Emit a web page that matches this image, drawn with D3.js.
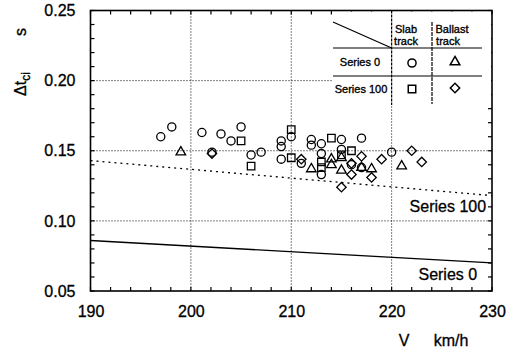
<!DOCTYPE html>
<html><head><meta charset="utf-8">
<script src="https://cdn.jsdelivr.net/npm/d3@7"></script>
<style>
body{margin:0;background:#fff;}
svg text{font-family:"Liberation Sans",Arial,Helvetica,sans-serif;fill:#000;}
</style></head>
<body><svg id="c" width="517" height="354"></svg>
<script>
// ---- data ----
const xTicks = [190, 200, 210, 220, 230];
const yTicks = [0.05, 0.10, 0.15, 0.20, 0.25];
const xGrid = [200, 210, 220];
const yGrid = [0.10, 0.15, 0.20];
// Series 0 on slab track (circles): [V km/h, Δt_ci s]
const series0Slab = [
  [197.0,0.160],[198.1,0.167],[201.1,0.163],[202.1,0.149],[203.0,0.162],
  [204.0,0.157],[205.0,0.167],[206.0,0.147],[207.0,0.149],[209.0,0.157],
  [209.0,0.153],[209.0,0.144],[210.0,0.160],[211.0,0.141],[212.0,0.158],
  [212.0,0.154],[213.0,0.155],[213.0,0.148],[213.0,0.133],[215.0,0.158],
  [215.0,0.151],[216.0,0.140],[217.0,0.159],[217.0,0.138],[220.0,0.149]
];
// Series 0 on ballast track (triangles)
const series0Ballast = [
  [199.0,0.149],[212.0,0.137],[214.0,0.144],[214.0,0.140],[215.0,0.145],
  [215.0,0.136],[217.0,0.138],[218.0,0.137],[221.0,0.139]
];
// Series 100 on slab track (squares)
const series100Slab = [
  [205.0,0.157],[206.0,0.139],[210.0,0.165],[210.0,0.145],[213.0,0.142],
  [213.0,0.138],[214.0,0.159],[215.0,0.147],[216.0,0.150]
];
// Series 100 on ballast track (diamonds)
const series100Ballast = [
  [202.1,0.148],[211.0,0.144],[215.0,0.124],[216.0,0.141],[216.0,0.133],
  [217.0,0.146],[218.0,0.131],[219.0,0.144],[222.0,0.150],[223.0,0.142]
];
// design lines
const series100Line = [[190,0.143],[230,0.118]];
const series0Line = [[190,0.086],[230,0.070]];

// ---- chart ----
const svg = d3.select("#c");
const L = 90.5, R = 492, T = 10.5, B = 291;
const x = d3.scaleLinear().domain([190,230]).range([L,R]);
const y = d3.scaleLinear().domain([0.05,0.25]).range([B,T]);

// grid
svg.append("g").selectAll("line").data(xGrid).join("line")
  .attr("x1",d=>x(d)).attr("x2",d=>x(d)).attr("y1",T).attr("y2",B)
  .attr("stroke","#000").attr("stroke-width",1).attr("stroke-dasharray","1,2");
svg.append("g").selectAll("line").data(yGrid).join("line")
  .attr("x1",L).attr("x2",R).attr("y1",d=>y(d)).attr("y2",d=>y(d))
  .attr("stroke","#000").attr("stroke-width",1).attr("stroke-dasharray","1,2");

// minor ticks (inward, all four sides)
const xMinor = d3.range(190,230.01,2);
const yMinor = d3.range(0.05,0.2501,0.01);
const tk = svg.append("g").attr("stroke","#000").attr("stroke-width",1.2);
xMinor.forEach(v=>{
  tk.append("line").attr("x1",x(v)).attr("x2",x(v)).attr("y1",B).attr("y2",B-4);
  tk.append("line").attr("x1",x(v)).attr("x2",x(v)).attr("y1",T).attr("y2",T+4);
});
yMinor.forEach(v=>{
  tk.append("line").attr("x1",L).attr("x2",L+4).attr("y1",y(v)).attr("y2",y(v));
  tk.append("line").attr("x1",R).attr("x2",R-4).attr("y1",y(v)).attr("y2",y(v));
});

// axes labels via d3 axes
const xAxis = svg.append("g").attr("transform",`translate(0,${B})`)
  .call(d3.axisBottom(x).tickValues(xTicks).tickSize(0).tickPadding(15).tickFormat(d3.format("d")));
const yAxis = svg.append("g").attr("transform",`translate(${L},0)`)
  .call(d3.axisLeft(y).tickValues(yTicks).tickSize(0).tickPadding(15).tickFormat(d3.format(".2f")));
[xAxis,yAxis].forEach(a=>{
  a.select(".domain").remove();
  a.selectAll("text").attr("font-size",16).attr("font-family","'Liberation Sans',Arial,sans-serif")
    .attr("fill","#000").attr("stroke","#000").attr("stroke-width",0.3);
});

// design lines
const line = d3.line().x(d=>x(d[0])).y(d=>y(d[1]));
svg.append("path").datum(series100Line).attr("d",line).attr("fill","none")
  .attr("stroke","#000").attr("stroke-width",1.3).attr("stroke-dasharray","2,4");
svg.append("path").datum(series0Line).attr("d",line).attr("fill","none")
  .attr("stroke","#000").attr("stroke-width",1.3);

const big = (tx,ty,s)=>svg.append("text").attr("x",tx).attr("y",ty).attr("text-anchor","middle")
  .attr("font-size",16).attr("stroke","#000").attr("stroke-width",0.3).text(s);
big(x(225.6),y(0.106),"Series 100");
big(x(225.6),y(0.0575),"Series 0");

// markers
const sym = {
  circle: d3.symbol().type(d3.symbolCircle).size(52),
  triangle: d3.symbol().type(d3.symbolTriangle).size(40),
  square: d3.symbol().type(d3.symbolSquare).size(56),
  diamond: d3.symbol().type(d3.symbolSquare).size(44)
};
const rot = {circle:0, triangle:0, square:0, diamond:45};
function drawPts(data, s){
  svg.append("g").selectAll("path").data(data).join("path")
    .attr("d",sym[s]).attr("transform",d=>`translate(${x(d[0])},${y(d[1])}) rotate(${rot[s]})`)
    .attr("fill","none").attr("stroke","#000").attr("stroke-width",1.3);
}
drawPts(series0Slab,"circle");
drawPts(series0Ballast,"triangle");
drawPts(series100Slab,"square");
drawPts(series100Ballast,"diamond");

// legend table
const lg = svg.append("g");
lg.append("rect").attr("x",332).attr("y",T+1).attr("width",R-333).attr("height",94).attr("fill","#fff");
function ln(x1,y1,x2,y2,dash){
  const l = lg.append("line").attr("x1",x1).attr("y1",y1).attr("x2",x2).attr("y2",y2)
    .attr("stroke","#000").attr("stroke-width",1.2);
  if(dash) l.attr("stroke-dasharray",dash);
}
const c1 = x(220), c2 = 432;
ln(333,22,c1,48);
ln(333,48,482,48);
ln(333,76,482,76);
ln(c1,T,c1,105,"3,1");
ln(c2,22,c2,104,"4,1");
const lt = (tx,ty,s)=>lg.append("text").attr("x",tx).attr("y",ty).attr("font-size",11)
  .attr("text-anchor","middle").attr("stroke","#000").attr("stroke-width",0.35).text(s);
lt(406,33,"Slab"); lt(406,45,"track");
lt(452,33,"Ballast"); lt(448,45,"track");
lt(360,66,"Series 0"); lt(361,93,"Series 100");
const lgSym = [["circle",412,63],["triangle",455,62],["square",412,89],["diamond",455,88]];
lgSym.forEach(d=>{
  lg.append("path").attr("d",sym[d[0]]).attr("transform",`translate(${d[1]},${d[2]}) rotate(${rot[d[0]]})`)
    .attr("fill","none").attr("stroke","#000").attr("stroke-width",1.5);
});

// frame
svg.append("rect").attr("x",L).attr("y",T).attr("width",R-L).attr("height",B-T)
  .attr("fill","none").attr("stroke","#000").attr("stroke-width",1.6);

// axis titles
svg.append("text").attr("transform","translate(26,32) rotate(-90)").attr("text-anchor","middle")
  .attr("font-size",16).attr("stroke","#000").attr("stroke-width",0.3).text("s");
const yt = svg.append("text").attr("transform","translate(26,84) rotate(-90)").attr("text-anchor","middle")
  .attr("font-size",16).attr("stroke","#000").attr("stroke-width",0.3);
yt.append("tspan").text("Δt");
yt.append("tspan").attr("font-size",12).attr("dy",4).text("ci");
big(404,346,"V");
big(451,346,"km/h");
</script></body></html>
